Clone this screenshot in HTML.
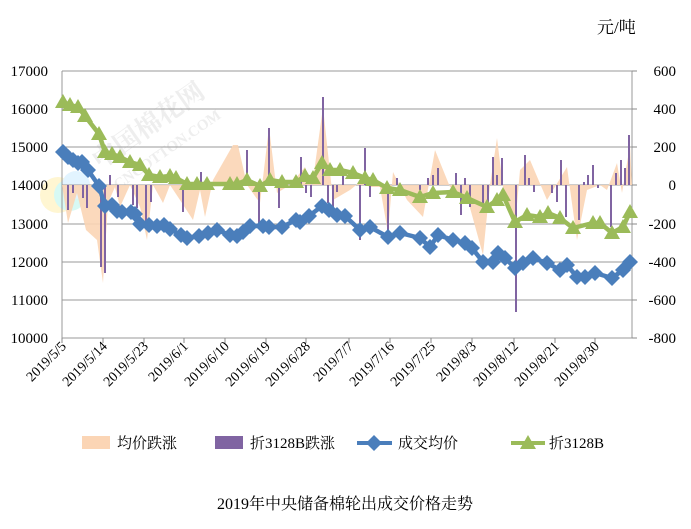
<!DOCTYPE html>
<html><head><meta charset="utf-8"><style>
body{margin:0;background:#fff;}
svg text{font-family:"Liberation Serif","Noto Serif CJK SC",serif;}
</style></head><body>
<svg width="691" height="524" viewBox="0 0 691 524">
<rect width="691" height="524" fill="#fff"/>
<g opacity="0.35">
<circle cx="58" cy="195" r="18" fill="#ffe680"/>
<circle cx="70" cy="195" r="16" fill="#8ff0e0"/>
<circle cx="76" cy="185" r="14" fill="#aee0ff"/>
</g>
<text x="100" y="170" transform="rotate(-35 100 170)" font-size="26" fill="#eee" font-weight="bold">中国棉花网</text>
<text x="118" y="190" transform="rotate(-35 118 190)" font-size="15" fill="#eee" font-weight="bold">CNCOTTON.COM</text>
<g stroke="#999" stroke-width="1">
<line x1="62" y1="71" x2="632" y2="71"/>
<line x1="62" y1="109" x2="632" y2="109"/>
<line x1="62" y1="147" x2="632" y2="147"/>
<line x1="62" y1="185" x2="632" y2="185"/>
<line x1="62" y1="224" x2="632" y2="224"/>
<line x1="62" y1="262" x2="632" y2="262"/>
<line x1="62" y1="300" x2="632" y2="300"/>
<line x1="62" y1="338" x2="632" y2="338"/>
<line x1="62" y1="71" x2="62" y2="338"/>
<line x1="632" y1="71" x2="632" y2="338"/>
</g>
<g stroke="#888">
<line x1="632" y1="71" x2="637" y2="71"/><line x1="632" y1="109" x2="637" y2="109"/><line x1="632" y1="147" x2="637" y2="147"/><line x1="632" y1="185" x2="637" y2="185"/><line x1="632" y1="224" x2="637" y2="224"/><line x1="632" y1="262" x2="637" y2="262"/><line x1="632" y1="300" x2="637" y2="300"/><line x1="632" y1="338" x2="637" y2="338"/>
<line x1="62" y1="338" x2="62" y2="343"/><line x1="103" y1="338" x2="103" y2="343"/><line x1="144" y1="338" x2="144" y2="343"/><line x1="184" y1="338" x2="184" y2="343"/><line x1="225" y1="338" x2="225" y2="343"/><line x1="266" y1="338" x2="266" y2="343"/><line x1="306" y1="338" x2="306" y2="343"/><line x1="349" y1="338" x2="349" y2="343"/><line x1="390" y1="338" x2="390" y2="343"/><line x1="431" y1="338" x2="431" y2="343"/><line x1="472" y1="338" x2="472" y2="343"/><line x1="514" y1="338" x2="514" y2="343"/><line x1="555" y1="338" x2="555" y2="343"/><line x1="595" y1="338" x2="595" y2="343"/>
</g>
<polygon fill="#fbd5b5" opacity="0.9" points="62,185 68,223 77,193 86,230 97,240 103,283 108,203 115,187 120,207 130,185 140,207 147,240 153,185 163,203 170,185 180,200 193,220 200,190 205,217 213,180 233,145 238,145 247,185 260,203 269,127 277,193 290,185 305,167 312,187 323,107 333,200 350,190 360,182 370,187 380,187 388,233 393,172 407,200 423,217 435,150 450,187 467,197 483,255 490,185 497,138 503,187 515,227 520,170 530,160 547,200 567,167 577,240 587,190 600,185 607,190 617,163 622,193 630,145 632,185"/>
<g stroke="#8064a2" stroke-width="2">
<line x1="68" y1="185" x2="68" y2="210"/><line x1="73" y1="185" x2="73" y2="193"/><line x1="83" y1="185" x2="83" y2="198"/><line x1="87" y1="185" x2="87" y2="208"/><line x1="101" y1="185" x2="101" y2="267"/><line x1="105" y1="185" x2="105" y2="273"/><line x1="110" y1="175" x2="110" y2="185"/><line x1="118" y1="185" x2="118" y2="197"/><line x1="133" y1="185" x2="133" y2="205"/><line x1="137" y1="185" x2="137" y2="208"/><line x1="146" y1="185" x2="146" y2="223"/><line x1="151" y1="185" x2="151" y2="202"/><line x1="183" y1="185" x2="183" y2="212"/><line x1="201" y1="172" x2="201" y2="185"/><line x1="247" y1="150" x2="247" y2="185"/><line x1="259" y1="185" x2="259" y2="227"/><line x1="269" y1="128" x2="269" y2="185"/><line x1="279" y1="185" x2="279" y2="208"/><line x1="301" y1="157" x2="301" y2="185"/><line x1="306" y1="185" x2="306" y2="193"/><line x1="311" y1="185" x2="311" y2="197"/><line x1="323" y1="97" x2="323" y2="185"/><line x1="328" y1="185" x2="328" y2="203"/><line x1="333" y1="185" x2="333" y2="208"/><line x1="337" y1="185" x2="337" y2="192"/><line x1="343" y1="175" x2="343" y2="185"/>
<line x1="360" y1="185" x2="360" y2="240"/><line x1="365" y1="148" x2="365" y2="185"/><line x1="370" y1="185" x2="370" y2="197"/><line x1="388" y1="185" x2="388" y2="230"/><line x1="397" y1="178" x2="397" y2="185"/><line x1="420" y1="185" x2="420" y2="190"/><line x1="428" y1="178" x2="428" y2="185"/><line x1="433" y1="175" x2="433" y2="185"/><line x1="438" y1="168" x2="438" y2="185"/><line x1="456" y1="173" x2="456" y2="185"/><line x1="461" y1="185" x2="461" y2="215"/><line x1="465" y1="178" x2="465" y2="185"/><line x1="470" y1="185" x2="470" y2="207"/><line x1="483" y1="185" x2="483" y2="203"/><line x1="488" y1="185" x2="488" y2="210"/><line x1="493" y1="157" x2="493" y2="185"/><line x1="497" y1="175" x2="497" y2="185"/><line x1="502" y1="158" x2="502" y2="185"/><line x1="516" y1="185" x2="516" y2="312"/><line x1="525" y1="155" x2="525" y2="185"/><line x1="529" y1="178" x2="529" y2="185"/><line x1="534" y1="185" x2="534" y2="192"/><line x1="552" y1="185" x2="552" y2="193"/><line x1="557" y1="185" x2="557" y2="202"/><line x1="561" y1="160" x2="561" y2="185"/><line x1="566" y1="185" x2="566" y2="217"/><line x1="579" y1="185" x2="579" y2="220"/><line x1="584" y1="182" x2="584" y2="185"/><line x1="588" y1="175" x2="588" y2="185"/><line x1="593" y1="165" x2="593" y2="185"/><line x1="598" y1="185" x2="598" y2="188"/><line x1="611" y1="185" x2="611" y2="227"/><line x1="616" y1="173" x2="616" y2="185"/><line x1="621" y1="160" x2="621" y2="185"/><line x1="625" y1="168" x2="625" y2="185"/><line x1="629" y1="135" x2="629" y2="185"/>
</g>
<defs>
<path id="dm" d="M0,-8 L8,0 L0,8 L-8,0Z" fill="#4a7ebb"/>
<path id="tr" d="M0,-8 L8,6 L-8,6Z" fill="#9bbb59"/>
</defs>
<polyline fill="none" stroke="#4a7ebb" stroke-width="4.5" stroke-linejoin="round" points="63,152 68,157 73,160 78,163 82,162 88,170 99,186 105,206 112,205 117,211 122,212 131,212 135,214 140,224 149,225 157,226 164,225 170,229 181,235 187,238 199,236 208,233 217,230 230,235 237,236 243,232 250,226 263,226 269,227 282,227 296,220 300,222 309,216 322,206 329,210 337,215 345,216 360,230 370,227 388,237 400,233 420,238 430,247 438,235 453,240 465,243 472,248 483,262 493,262 498,253 505,258 515,268 523,263 533,258 547,263 560,270 567,265 577,277 585,277 595,273 612,278 623,270 630,262"/>
<g>
<use href="#dm" x="63" y="152"/><use href="#dm" x="68" y="157"/><use href="#dm" x="73" y="160"/><use href="#dm" x="78" y="163"/><use href="#dm" x="82" y="162"/><use href="#dm" x="88" y="170"/><use href="#dm" x="99" y="186"/><use href="#dm" x="105" y="206"/><use href="#dm" x="112" y="205"/><use href="#dm" x="117" y="211"/><use href="#dm" x="122" y="212"/><use href="#dm" x="131" y="212"/><use href="#dm" x="135" y="214"/><use href="#dm" x="140" y="224"/><use href="#dm" x="149" y="225"/><use href="#dm" x="157" y="226"/><use href="#dm" x="164" y="225"/><use href="#dm" x="170" y="229"/><use href="#dm" x="181" y="235"/><use href="#dm" x="187" y="238"/><use href="#dm" x="199" y="236"/><use href="#dm" x="208" y="233"/><use href="#dm" x="217" y="230"/><use href="#dm" x="230" y="235"/><use href="#dm" x="237" y="236"/><use href="#dm" x="243" y="232"/><use href="#dm" x="250" y="226"/><use href="#dm" x="263" y="226"/><use href="#dm" x="269" y="227"/><use href="#dm" x="282" y="227"/><use href="#dm" x="296" y="220"/><use href="#dm" x="300" y="222"/><use href="#dm" x="309" y="216"/><use href="#dm" x="322" y="206"/><use href="#dm" x="329" y="210"/><use href="#dm" x="337" y="215"/><use href="#dm" x="345" y="216"/><use href="#dm" x="360" y="230"/><use href="#dm" x="370" y="227"/><use href="#dm" x="388" y="237"/><use href="#dm" x="400" y="233"/><use href="#dm" x="420" y="238"/><use href="#dm" x="430" y="247"/><use href="#dm" x="438" y="235"/><use href="#dm" x="453" y="240"/><use href="#dm" x="465" y="243"/><use href="#dm" x="472" y="248"/><use href="#dm" x="483" y="262"/><use href="#dm" x="493" y="262"/><use href="#dm" x="498" y="253"/><use href="#dm" x="505" y="258"/><use href="#dm" x="515" y="268"/><use href="#dm" x="523" y="263"/><use href="#dm" x="533" y="258"/><use href="#dm" x="547" y="263"/><use href="#dm" x="560" y="270"/><use href="#dm" x="567" y="265"/><use href="#dm" x="577" y="277"/><use href="#dm" x="585" y="277"/><use href="#dm" x="595" y="273"/><use href="#dm" x="612" y="278"/><use href="#dm" x="623" y="270"/><use href="#dm" x="630" y="262"/>
</g>
<polyline fill="none" stroke="#9bbb59" stroke-width="4.5" stroke-linejoin="round" points="63,102 70,105 78,107 85,116 99,134 105,152 112,154 120,157 130,162 140,165 149,175 160,177 170,176 176,178 187,184 197,184 207,184 230,184 237,184 247,180 260,186 270,180 282,182 296,182 305,176 313,178 322,163 330,170 340,170 353,173 365,178 373,180 387,188 400,190 420,197 433,193 453,192 467,198 487,207 497,200 503,195 515,222 527,215 540,217 548,213 560,218 573,228 593,223 600,223 612,233 623,227 630,212"/>
<g>
<use href="#tr" x="63" y="102"/><use href="#tr" x="70" y="105"/><use href="#tr" x="78" y="107"/><use href="#tr" x="85" y="116"/><use href="#tr" x="99" y="134"/><use href="#tr" x="105" y="152"/><use href="#tr" x="112" y="154"/><use href="#tr" x="120" y="157"/><use href="#tr" x="130" y="162"/><use href="#tr" x="140" y="165"/><use href="#tr" x="149" y="175"/><use href="#tr" x="160" y="177"/><use href="#tr" x="170" y="176"/><use href="#tr" x="176" y="178"/><use href="#tr" x="187" y="184"/><use href="#tr" x="197" y="184"/><use href="#tr" x="207" y="184"/><use href="#tr" x="230" y="184"/><use href="#tr" x="237" y="184"/><use href="#tr" x="247" y="180"/><use href="#tr" x="260" y="186"/><use href="#tr" x="270" y="180"/><use href="#tr" x="282" y="182"/><use href="#tr" x="296" y="182"/><use href="#tr" x="305" y="176"/><use href="#tr" x="313" y="178"/><use href="#tr" x="322" y="163"/><use href="#tr" x="330" y="170"/><use href="#tr" x="340" y="170"/><use href="#tr" x="353" y="173"/><use href="#tr" x="365" y="178"/><use href="#tr" x="373" y="180"/><use href="#tr" x="387" y="188"/><use href="#tr" x="400" y="190"/><use href="#tr" x="420" y="197"/><use href="#tr" x="433" y="193"/><use href="#tr" x="453" y="192"/><use href="#tr" x="467" y="198"/><use href="#tr" x="487" y="207"/><use href="#tr" x="497" y="200"/><use href="#tr" x="503" y="195"/><use href="#tr" x="515" y="222"/><use href="#tr" x="527" y="215"/><use href="#tr" x="540" y="217"/><use href="#tr" x="548" y="213"/><use href="#tr" x="560" y="218"/><use href="#tr" x="573" y="228"/><use href="#tr" x="593" y="223"/><use href="#tr" x="600" y="223"/><use href="#tr" x="612" y="233"/><use href="#tr" x="623" y="227"/><use href="#tr" x="630" y="212"/>
</g>
<g font-size="15" fill="#000" text-anchor="end">
<text x="48" y="76">17000</text><text x="48" y="114">16000</text><text x="48" y="152">15000</text><text x="48" y="190">14000</text><text x="48" y="229">13000</text><text x="48" y="267">12000</text><text x="48" y="305">11000</text><text x="48" y="343">10000</text>
</g>
<g font-size="15" fill="#000" text-anchor="end">
<text x="676" y="76">600</text><text x="676" y="114">400</text><text x="676" y="152">200</text><text x="676" y="190">0</text><text x="676" y="229">-200</text><text x="676" y="267">-400</text><text x="676" y="305">-600</text><text x="676" y="343">-800</text>
</g>
<text x="597" y="33" font-size="17">元/吨</text>
<g font-size="14" text-anchor="end">
<text transform="translate(67,347) rotate(-45)">2019/5/5</text>
<text transform="translate(108,347) rotate(-45)">2019/5/14</text>
<text transform="translate(149,347) rotate(-45)">2019/5/23</text>
<text transform="translate(189,347) rotate(-45)">2019/6/1</text>
<text transform="translate(230,347) rotate(-45)">2019/6/10</text>
<text transform="translate(271,347) rotate(-45)">2019/6/19</text>
<text transform="translate(311,347) rotate(-45)">2019/6/28</text>
<text transform="translate(354,347) rotate(-45)">2019/7/7</text>
<text transform="translate(395,347) rotate(-45)">2019/7/16</text>
<text transform="translate(436,347) rotate(-45)">2019/7/25</text>
<text transform="translate(477,347) rotate(-45)">2019/8/3</text>
<text transform="translate(519,347) rotate(-45)">2019/8/12</text>
<text transform="translate(560,347) rotate(-45)">2019/8/21</text>
<text transform="translate(600,347) rotate(-45)">2019/8/30</text>
</g>
<rect x="82" y="436" width="28" height="13" fill="#fbd5b5"/>
<text x="117" y="448" font-size="15">均价跌涨</text>
<rect x="215" y="436" width="28" height="13" fill="#8064a2"/>
<text x="250" y="448" font-size="15">折3128B跌涨</text>
<line x1="357" y1="443" x2="392" y2="443" stroke="#4a7ebb" stroke-width="4"/>
<use href="#dm" x="374" y="443"/>
<text x="398" y="448" font-size="15">成交均价</text>
<line x1="511" y1="443" x2="545" y2="443" stroke="#9bbb59" stroke-width="4"/>
<use href="#tr" x="528" y="443"/>
<text x="549" y="448" font-size="15">折3128B</text>
<text x="345" y="509" font-size="16" text-anchor="middle">2019年中央储备棉轮出成交价格走势</text>
</svg>
</body></html>
